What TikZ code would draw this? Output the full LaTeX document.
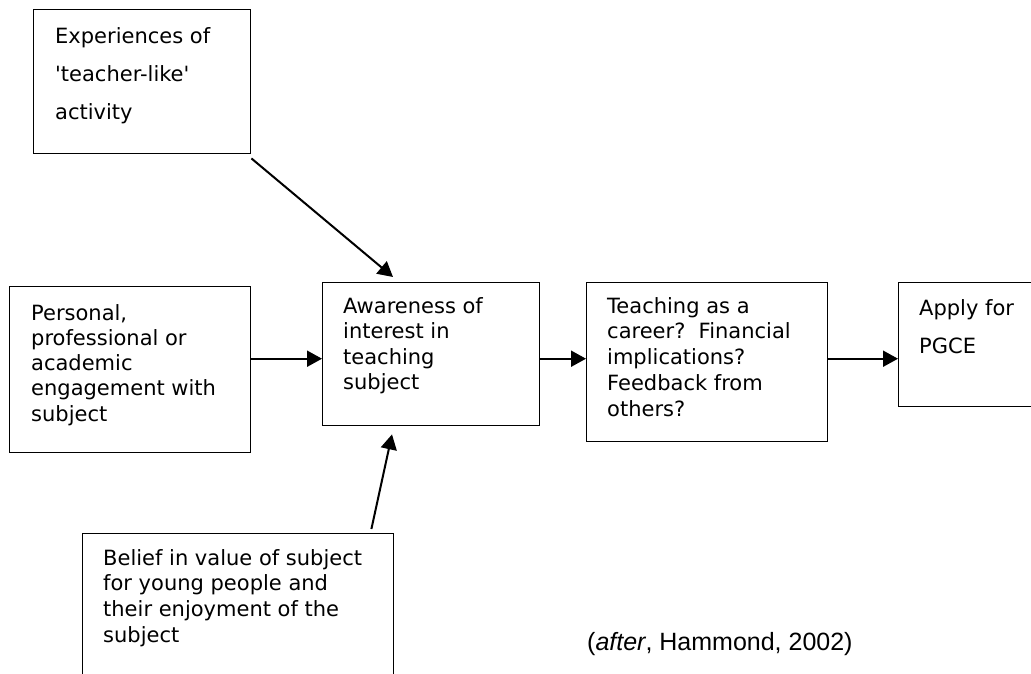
\documentclass[tikz,border=0pt]{standalone}
\usepackage{fontspec}
\setmainfont{DejaVu Sans}
\newfontfamily\citefont{Liberation Sans}
\usetikzlibrary{arrows.meta}
\begin{document}
\begin{tikzpicture}[x=1pt,y=1pt,
  box/.style={draw, line width=1.4pt, anchor=north west, inner sep=0pt},
  txt/.style={anchor=base west, inner sep=0pt},
  arr/.style={-{Triangle[length=15pt,width=16pt]}, line width=2pt},
]
\useasboundingbox (0,0) rectangle (1031,-673);
\clip (0,0) rectangle (1031,-673);
\fill[white] (0,0) rectangle (1031,-673);

% boxes
\node[box, minimum width=217pt, minimum height=144pt] (A) at (33,-9) {};
\node[box, minimum width=241pt, minimum height=166pt] (P) at (9,-286) {};
\node[box, minimum width=217pt, minimum height=143pt] (W) at (322,-282) {};
\node[box, minimum width=241pt, minimum height=159pt] (T) at (586,-282) {};
\node[box, minimum width=160pt, minimum height=124pt] (G) at (898,-282) {};
\node[box, minimum width=311pt, minimum height=170pt] (B) at (82,-533) {};

% texts
\node[txt] (At) at (55,-43) {\parbox[t]{220pt}{\raggedright\fontsize{21}{38}\selectfont
  Experiences of\\\textquotesingle teacher-like\textquotesingle\\activity}};
\node[txt] (Pt) at (31,-320) {\parbox[t]{230pt}{\raggedright\fontsize{21}{25.3}\selectfont
  Personal,\\professional or\\academic\\engagement with\\subject}};
\node[txt] (Wt) at (343,-313) {\parbox[t]{200pt}{\raggedright\fontsize{21}{25.5}\selectfont
  Awareness of\\interest in\\teaching\\subject}};
\node[txt] (Tt) at (607,-313) {\parbox[t]{230pt}{\raggedright\fontsize{21}{25.8}\selectfont
  Teaching as a\\career?\ \ Financial\\implications?\\Feedback from\\others?}};
\node[txt] (Gt) at (919,-315) {\parbox[t]{150pt}{\raggedright\fontsize{21}{38}\selectfont
  Apply for\\PGCE}};
\node[txt] (Bt) at (103,-565) {\parbox[t]{300pt}{\raggedright\fontsize{21}{25.7}\selectfont
  Belief in value of subject\\for young people and\\their enjoyment of the\\subject}};
\node[txt] (cite) at (587,-650) {\citefont\fontsize{25}{30}\selectfont(\textit{after}, Hammond, 2002)};

% connectors
\coordinate (m) at ([yshift=-4.5pt]W.west);
\draw[arr] ([shift={(0,-4)}]A.south east) -- ([shift={(71,5)}]W.north west);
\draw[arr] ([shift={(-23,4)}]B.north east) -- ([shift={(70,-8)}]W.south west);
\draw[arr] (P.east |- m) -- (m);
\draw[arr] (W.east |- m) -- (T.west |- m);
\draw[arr] (T.east |- m) -- (G.west |- m);
\end{tikzpicture}
\end{document}
